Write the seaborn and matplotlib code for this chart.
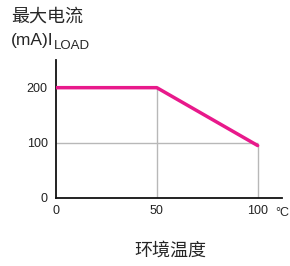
import pandas as pd
import seaborn as sns
import matplotlib.pyplot as plt

# 降额曲线数据
temps = [0, 50, 100]
currents = [200, 200, 95]
x_ticks = [0, 50, 100]
y_ticks = [0, 100, 200]

sns.set_style('white')
plt.rcParams['font.family'] = ['Liberation Sans', 'Noto Sans CJK SC', 'DejaVu Sans']

df = pd.DataFrame({'temp': temps, 'current': currents})

fig = plt.figure(figsize=(2.9, 2.66), dpi=100)
ax = fig.add_axes([0.193, 0.256, 0.779, 0.518])

# 参考线
ax.vlines(temps[1:], 0, currents[1:], color='#b8b8b8', lw=1, zorder=1)
ax.hlines(y_ticks[1], 0, x_ticks[-1], color='#b8b8b8', lw=1, zorder=1)

sns.lineplot(data=df, x='temp', y='current', color='#e8198b', lw=2.5, ax=ax, zorder=3)

ax.set_xlim(0, 112)
ax.set_ylim(0, 250)
ax.set_xticks(x_ticks)
ax.set_yticks(y_ticks)
ax.tick_params(labelsize=9, length=4, width=0.8, colors='#222222', pad=3,
               direction='inout')
ax.tick_params(axis='y', pad=4)
ax.set_xlabel('')
ax.set_ylabel('')
for s in ['top', 'right']:
    ax.spines[s].set_visible(False)
for s in ['left', 'bottom']:
    ax.spines[s].set_color('#111111')
    ax.spines[s].set_linewidth(1.3)

fig.text(0.038, 0.935, '最大电流', fontsize=13, va='center', ha='left')
t = fig.text(0.038, 0.83, '(mA)I', fontsize=12.5, va='baseline', ha='left')
ax.annotate('LOAD', xy=(1, 0), xycoords=t, xytext=(0.5, -0.3),
            textcoords='offset points', fontsize=9.5, va='baseline', ha='left',
            annotation_clip=False)
fig.text(0.948, 0.2, '°C', fontsize=9, va='center', ha='left')
fig.text(0.586, 0.057, '环境温度', fontsize=13, va='center', ha='center')

fig.savefig('out.png', dpi=100, facecolor='white')
